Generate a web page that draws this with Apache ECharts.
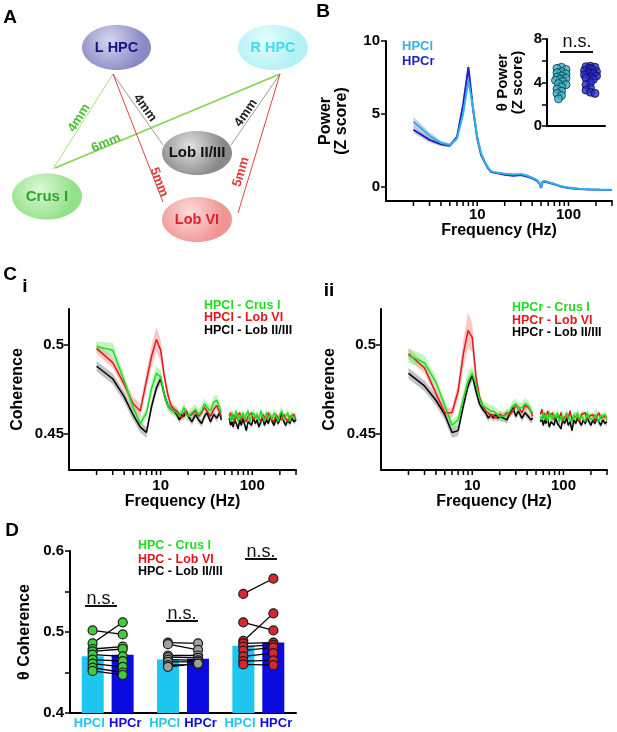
<!DOCTYPE html>
<html>
<head>
<meta charset="utf-8">
<script src="https://cdn.jsdelivr.net/npm/echarts@6/dist/echarts.min.js"></script>
<style>
  html, body { margin: 0; padding: 0; background: #fff; }
  #main { width: 617px; height: 732px; }
</style>
</head>
<body>
<div id="main"></div>
<script>
const FONT = '"Liberation Sans", Arial, sans-serif';

// ---------- B: hippocampal power spectra (Z score) ----------
const powerFreq = [2,3,4,5,6,7,8,9,10,11,12,13,14,15,17,20,25,30,35,40,45,48,50,52,55,60,70,80,100,130,170,220,300];
const powerHPCl = [4.45,3.5,3.0,2.85,3.3,5.0,7.3,5.4,3.4,2.3,1.75,1.35,1.08,1.0,0.95,0.88,0.82,0.85,0.75,0.6,0.45,0.25,-0.05,0.35,0.38,0.3,0.18,0.05,-0.08,-0.15,-0.2,-0.22,-0.23];
const powerHPCr = [3.9,3.2,2.9,2.8,3.4,5.6,8.2,5.3,3.3,2.2,1.7,1.3,1.03,0.96,0.9,0.8,0.74,0.78,0.68,0.56,0.4,0.22,-0.1,0.3,0.34,0.27,0.15,0.02,-0.1,-0.17,-0.21,-0.23,-0.24];
const powerSemHPCl = [0.35,0.25,0.15,0.12,0.15,0.3,0.35,0.3,0.2,0.1,0.08,0.06,0.05,0.05,0.05,0.05,0.05,0.05,0.05,0.05,0.05,0.05,0.08,0.05,0.05,0.04,0.03,0.03,0.03,0.02,0.02,0.02,0.02];
const powerSemHPCr = [0.25,0.2,0.12,0.1,0.12,0.25,0.3,0.25,0.15,0.08,0.06,0.05,0.05,0.05,0.05,0.05,0.05,0.05,0.05,0.05,0.05,0.05,0.08,0.05,0.05,0.04,0.03,0.03,0.03,0.02,0.02,0.02,0.02];

// inset: theta power per animal
const thetaPowerHPCl = [5.4,5.3,5.2,5.0,4.9,4.8,4.6,4.5,4.4,4.3,4.2,4.1,3.9,3.8,3.6,3.4,3.2,3.0,2.8,2.5];
const thetaPowerHPCr = [5.5,5.45,5.4,5.3,5.2,5.1,5.0,4.9,4.8,4.7,4.6,4.5,4.4,4.3,4.0,3.8,3.5,3.3,3.1,3.0];

// ---------- C: coherence spectra ----------
// 2-46 Hz, then 56-300 Hz (line noise notch removed around 50 Hz)
const cohFreq = [2,3,4,5,6,7,8,9,10,11,12,13,14,15,16,17,18,19,20,22,24,26,28,30,32,35,38,41,44,46,
  56,58,60,62,64,67,70,73,76,79,82,86,90,94,98,103,108,113,118,124,130,136,143,150,157,165,173,182,191,200,210,221,232,244,257,270,285,300];
const notchHz = 50;

// i: HPCl
const cohLCrus = [.499,.497,.480,.465,.456,.462,.476,.484,.482,.472,.466,.464,.463,.462,.460,.462,.465,.461,.460,.462,.464,.461,.463,.467,.465,.463,.468,.469,.465,.462,
  .461,.457,.462,.458,.460,.463,.457,.461,.459,.462,.458,.461,.463,.457,.460,.462,.459,.461,.458,.463,.460,.457,.462,.459,.461,.458,.462,.460,.457,.461,.463,.458,.460,.462,.457,.461,.459,.460];
const cohLLob6 = [.498,.490,.478,.467,.463,.480,.494,.503,.497,.482,.472,.466,.464,.463,.461,.459,.462,.463,.460,.461,.463,.460,.462,.465,.463,.460,.464,.466,.462,.460,
  .460,.462,.458,.461,.457,.460,.459,.462,.458,.460,.461,.457,.460,.459,.462,.458,.460,.461,.459,.457,.461,.460,.458,.462,.459,.460,.457,.461,.459,.460,.458,.461,.459,.457,.460,.459,.461,.458];
const cohLLob23 = [.488,.481,.471,.461,.454,.451,.466,.476,.481,.472,.466,.464,.463,.461,.458,.461,.460,.463,.460,.457,.461,.458,.456,.460,.462,.457,.461,.459,.462,.458,
  .459,.455,.457,.454,.458,.456,.453,.458,.455,.459,.456,.452,.457,.458,.455,.459,.456,.458,.454,.457,.459,.455,.458,.456,.460,.457,.455,.459,.456,.458,.462,.457,.455,.458,.456,.459,.457,.458];
// ii: HPCr
const cohRCrus = [.494,.490,.479,.466,.455,.458,.470,.480,.484,.478,.470,.466,.465,.464,.463,.463,.462,.461,.460,.460,.461,.463,.466,.467,.464,.465,.467,.466,.463,.462,
  .460,.458,.462,.459,.461,.457,.462,.460,.458,.461,.459,.462,.457,.460,.461,.458,.462,.459,.460,.457,.461,.459,.462,.458,.460,.461,.457,.462,.459,.460,.458,.461,.462,.457,.460,.459,.461,.458];
const cohRLob6 = [.495,.487,.473,.462,.462,.474,.495,.508,.504,.482,.471,.466,.463,.462,.460,.461,.459,.460,.461,.460,.462,.461,.463,.466,.465,.462,.466,.465,.463,.460,
  .461,.464,.459,.462,.458,.463,.460,.459,.462,.458,.460,.461,.459,.462,.457,.460,.461,.459,.463,.458,.460,.461,.459,.457,.461,.460,.462,.458,.460,.459,.461,.457,.460,.462,.459,.458,.460,.459];
const cohRLob23 = [.484,.477,.469,.461,.451,.452,.466,.477,.483,.474,.467,.464,.462,.459,.461,.459,.461,.459,.460,.459,.458,.462,.465,.460,.463,.459,.462,.460,.458,.459,
  .457,.459,.455,.458,.456,.459,.454,.457,.458,.455,.459,.456,.457,.453,.458,.456,.459,.455,.457,.452,.458,.456,.459,.457,.455,.458,.456,.459,.457,.455,.458,.456,.459,.457,.455,.458,.456,.457];

// SEM for 2-46 Hz; one value for the 56-300 Hz stretch
const semLCrus = [.003,.004,.003,.003,.003,.003,.004,.004,.004,.003,.003,.003,.003,.003,.003,.003,.003,.003,.003,.003,.003,.003,.003,.003,.003,.003,.003,.003,.003,.003];
const semLLob6 = [.003,.003,.003,.004,.004,.005,.006,.007,.006,.004,.003,.002,.002,.002,.002,.002,.002,.002,.002,.002,.002,.002,.002,.002,.002,.002,.002,.002,.002,.002];
const semLLob23 = [.003,.003,.003,.003,.003,.003,.003,.003,.003,.003,.002,.002,.002,.002,.002,.002,.002,.002,.002,.002,.002,.002,.002,.002,.002,.002,.002,.002,.002,.002];
const semRCrus = [.004,.004,.003,.003,.003,.003,.004,.005,.004,.003,.003,.003,.003,.003,.003,.003,.003,.003,.003,.003,.003,.003,.003,.003,.003,.003,.003,.003,.003,.003];
const semRLob6 = [.003,.003,.003,.003,.003,.005,.008,.010,.008,.005,.003,.002,.002,.002,.002,.002,.002,.002,.002,.002,.002,.002,.002,.002,.002,.002,.002,.002,.002,.002];
const semRLob23 = [.003,.003,.003,.003,.003,.003,.003,.003,.003,.003,.002,.002,.002,.002,.002,.002,.002,.002,.002,.002,.002,.002,.002,.002,.002,.002,.002,.002,.002,.002];
const semHighCrus = .0025, semHighLob6 = .0015, semHighLob23 = .0015;

// ---------- D: theta coherence per animal (HPCl, HPCr pairs) ----------
const groups = ['Crus I', 'Lob II/III', 'Lob VI'];
const barHPCl = [.470, .466, .483];
const barHPCr = [.472, .467, .487];
const dCrusHPCl = [.502,.486,.479,.476,.472,.466,.461,.456,.452];
const dCrusHPCr = [.497,.512,.482,.479,.470,.464,.457,.450,.447];
const dLob23HPCl = [.487,.485,.471,.469,.466,.463,.459,.457];
const dLob23HPCr = [.486,.478,.471,.468,.465,.463,.460,.461];
const dLob6HPCl = [.547,.512,.489,.486,.482,.477,.470,.464,.460];
const dLob6HPCr = [.566,.502,.523,.487,.484,.481,.474,.465,.459];

const logTicks = [2,3,4,5,6,7,8,9,10,20,30,40,50,60,70,80,90,100,200,300];

// ---------- helpers ----------
function merge(a, b) {
  const out = Object.assign({}, a);
  for (const k in b) {
    if (b[k] && typeof b[k] === 'object' && !Array.isArray(b[k]) && a[k] && typeof a[k] === 'object') out[k] = merge(a[k], b[k]);
    else out[k] = b[k];
  }
  return out;
}
function axis(extra) {
  return merge({
    nameLocation: 'middle',
    nameTextStyle: { color: '#000', fontFamily: FONT, fontWeight: 'bold', fontSize: 16 },
    axisLine: { show: true, onZero: false, lineStyle: { color: '#000', width: 2 } },
    axisTick: { show: true, length: 5, lineStyle: { color: '#000', width: 1.5 } },
    axisLabel: { color: '#000', fontFamily: FONT, fontWeight: 'bold', fontSize: 15 },
    splitLine: { show: false }
  }, extra);
}
function withGap(xs, ys) {
  const out = [];
  xs.forEach((x, i) => {
    if (i > 0 && xs[i - 1] < notchHz && x > notchHz) out.push([notchHz, '-']);
    out.push([x, ys[i]]);
  });
  return out;
}
function semFull(low, high) {
  return cohFreq.map((f, i) => (i < low.length ? low[i] : high));
}
// mean +/- sem band, drawn as one polygon per continuous stretch
function band(xi, yi, xs, mean, sem, color) {
  const pts = xs.map((x, i) => [x, mean[i] - sem[i], mean[i] + sem[i]]);
  return {
    type: 'custom', xAxisIndex: xi, yAxisIndex: yi, silent: true, z: 1,
    data: pts, encode: { x: 0, y: [1, 2] },
    renderItem: (params, api) => {
      if (params.dataIndex !== 0) return null;
      const segs = [];
      let cur = [];
      pts.forEach((p, i) => {
        if (i > 0 && pts[i - 1][0] < notchHz && p[0] > notchHz) { segs.push(cur); cur = []; }
        cur.push(p);
      });
      segs.push(cur);
      return {
        type: 'group',
        children: segs.map(s => ({
          type: 'polygon',
          shape: { points: s.map(p => api.coord([p[0], p[2]])).concat(s.slice().reverse().map(p => api.coord([p[0], p[1]]))) },
          style: { fill: color }
        }))
      };
    }
  };
}
function meanLine(xi, yi, xs, ys, color, width) {
  return { type: 'line', xAxisIndex: xi, yAxisIndex: yi, data: withGap(xs, ys), symbol: 'none', silent: true,
    lineStyle: { color: color, width: width || 1.5 }, z: 3 };
}
// log-axis tick marks at 2..9, 20..90, ...
function logTickMarks(xi, yi, ymin) {
  return {
    type: 'custom', xAxisIndex: xi, yAxisIndex: yi, silent: true, z: 6, clip: false,
    data: logTicks.map(f => [f, ymin]),
    renderItem: (params, api) => {
      const p = api.coord([api.value(0), api.value(1)]);
      return { type: 'line', shape: { x1: p[0], y1: p[1], x2: p[0], y2: p[1] + 5 }, style: { stroke: '#000', lineWidth: 1.5 } };
    }
  };
}
// beeswarm: small horizontal pixel offsets, dots may overlap a little
function swarm(vals, thr, pxPerUnit) {
  const placed = [];
  const cands = [0, -1.5, 1.5, -3, 3, -4.5, 4.5, -6, 6];
  return vals.map(v => {
    const y = v * pxPerUnit;
    let best = 0, bestD = -1;
    for (const x of cands) {
      const d = placed.reduce((m, p) => Math.min(m, Math.hypot(p[0] - x, p[1] - y)), 1e9);
      if (d >= thr) { best = x; bestD = d; break; }
      if (d > bestD) { bestD = d; best = x; }
    }
    placed.push([best, y]);
    return best;
  });
}
function pairs(g, l, r) {
  const out = [];
  l.forEach((v, i) => { out.push([g + 0.3, v], [g + 0.7, r[i]], ['-', '-']); });
  return out;
}

// ---------- colors ----------
const cGreen = '#1fdc1f', cRed = '#e3181d', cBlack = '#000';
const bGreen = 'rgba(110,235,110,0.45)', bRed = 'rgba(245,130,130,0.45)', bBlack = 'rgba(120,120,120,0.45)';
const cHPCl = '#31b2e6', cHPCr = '#1f1fc4';

const chart = echarts.init(document.getElementById('main'), null, { renderer: 'canvas' });

const insetPx = 87 / 8;
const offL = swarm(thetaPowerHPCl, 3.8, insetPx);
const offR = swarm(thetaPowerHPCr, 3.8, insetPx);

const series = [];
// B bands + lines
series.push(band(0, 0, powerFreq, powerHPCr, powerSemHPCr, 'rgba(150,150,185,0.45)'));
series.push(band(0, 0, powerFreq, powerHPCl, powerSemHPCl, 'rgba(150,150,185,0.45)'));
series.push(meanLine(0, 0, powerFreq, powerHPCr, cHPCr, 2));
series.push(meanLine(0, 0, powerFreq, powerHPCl, cHPCl, 2));
series.push(logTickMarks(0, 0, -1));
// inset
series.push({ type: 'scatter', xAxisIndex: 1, yAxisIndex: 1, symbolSize: 8, z: 4,
  data: thetaPowerHPCl.map((v, i) => ({ value: [0, v], symbolOffset: [offL[i], 0] })),
  itemStyle: { color: '#3cb4c8', borderColor: '#10303c', borderWidth: 1 } });
series.push({ type: 'scatter', xAxisIndex: 1, yAxisIndex: 1, symbolSize: 8, z: 4,
  data: thetaPowerHPCr.map((v, i) => ({ value: [1, v], symbolOffset: [offR[i], 0] })),
  itemStyle: { color: '#2a2ad0', borderColor: '#0c0c40', borderWidth: 1 } });
// C i and C ii
[[2, cohLCrus, cohLLob6, cohLLob23, semLCrus, semLLob6, semLLob23],
 [3, cohRCrus, cohRLob6, cohRLob23, semRCrus, semRLob6, semRLob23]].forEach(([ax, crus, lob6, lob23, sC, s6, s23]) => {
  series.push(band(ax, ax, cohFreq, lob23, semFull(s23, semHighLob23), bBlack));
  series.push(band(ax, ax, cohFreq, lob6, semFull(s6, semHighLob6), bRed));
  series.push(band(ax, ax, cohFreq, crus, semFull(sC, semHighCrus), bGreen));
  series.push(meanLine(ax, ax, cohFreq, lob23, cBlack));
  series.push(meanLine(ax, ax, cohFreq, lob6, cRed));
  series.push(meanLine(ax, ax, cohFreq, crus, cGreen));
  series.push(logTickMarks(ax, ax, 0.43));
});
// D bars
series.push({ type: 'bar', xAxisIndex: 4, yAxisIndex: 4, data: barHPCl, barWidth: 22, barGap: '36%', itemStyle: { color: '#1ec6f0' }, z: 1 });
series.push({ type: 'bar', xAxisIndex: 4, yAxisIndex: 4, data: barHPCr, barWidth: 22, itemStyle: { color: '#0b0be0' }, z: 1 });
// D paired dots
[[0, dCrusHPCl, dCrusHPCr, '#3ccf3c'], [1, dLob23HPCl, dLob23HPCr, '#a0a0a0'], [2, dLob6HPCl, dLob6HPCr, '#d8282e']].forEach(([g, l, r, col]) => {
  series.push({ type: 'line', xAxisIndex: 5, yAxisIndex: 4, data: pairs(g, l, r), connectNulls: false, z: 5,
    symbol: 'circle', symbolSize: 9, showSymbol: true, showAllSymbol: true,
    lineStyle: { color: '#000', width: 1.3 }, itemStyle: { color: col, borderColor: '#1a1a1a', borderWidth: 1.2 } });
});

// ---------- panel A schematic + annotations ----------
function txt(x, y, s, fill, size, extra) {
  return merge({ type: 'text', x: x, y: y, z: 100,
    style: { text: s, fill: fill, font: 'bold ' + size + 'px ' + FONT, textAlign: 'center', textVerticalAlign: 'middle' } }, extra || {});
}
function seg(x1, y1, x2, y2, color, w) {
  return { type: 'line', z: 50, shape: { x1, y1, x2, y2 }, style: { stroke: color, lineWidth: w } };
}
function node(cx, cy, rx, ry, c0, c1, label, tc, size) {
  return [
    { type: 'ellipse', z: 60, shape: { cx, cy, rx, ry },
      style: { fill: { type: 'radial', x: 0.4, y: 0.35, r: 0.75, colorStops: [{ offset: 0, color: c0 }, { offset: 1, color: c1 }] } } },
    txt(cx, cy, label, tc, size)
  ];
}
const deg = Math.PI / 180;
const left = { style: { textAlign: 'left' } };
const graphic = [
  txt(10, 18, 'A', '#000', 19), txt(323, 12, 'B', '#000', 19), txt(10, 275, 'C', '#000', 19),
  txt(25, 287, 'i', '#000', 19), txt(329, 291, 'ii', '#000', 19), txt(12, 531, 'D', '#000', 19),
  seg(113, 74, 53, 169, '#a8e283', 1),
  seg(280, 74, 55, 168, '#86d54c', 1.8),
  seg(113, 74, 163, 145, '#9a9a9a', 1),
  seg(113, 74, 163, 202, '#d84545', 1),
  seg(280, 74, 231, 145, '#9a9a9a', 1),
  seg(280, 74, 238, 213, '#d84545', 1),
  ...node(116.5, 47.5, 34.5, 22.5, '#d6d6f0', '#8a8ac6', 'L HPC', '#15157e', 14.5),
  ...node(273, 47.5, 35, 22.5, '#e4fdfd', '#b2f1f4', 'R HPC', '#3fdcec', 14.5),
  ...node(197, 153, 35, 22, '#e2e2e2', '#8a8a8a', 'Lob II/III', '#111', 15),
  ...node(47, 196.5, 35, 23, '#dcf8d6', '#92e088', 'Crus I', '#2aa52a', 15),
  ...node(197, 219.5, 35, 22.5, '#ffdcdc', '#f09494', 'Lob VI', '#e0202a', 14.5),
  txt(79, 118, '4mm', '#4cc134', 13, { rotation: 57.7 * deg }),
  txt(106, 143, '6mm', '#4cc134', 13, { rotation: 22.7 * deg }),
  txt(145, 108, '4mm', '#222', 13, { rotation: -54.8 * deg }),
  txt(159, 182, '5mm', '#e03a3a', 13, { rotation: -68.7 * deg }),
  txt(246, 113, '4mm', '#222', 13, { rotation: 55.4 * deg }),
  txt(241, 172, '5mm', '#e03a3a', 13, { rotation: 73.2 * deg }),
  // B legend
  txt(402, 46, 'HPCl', cHPCl, 13, left),
  txt(402, 61, 'HPCr', cHPCr, 13, left),
  // C legends
  txt(204, 306, 'HPCl - Crus I', cGreen, 12.5, left),
  txt(204, 318, 'HPCl - Lob VI', cRed, 12.5, left),
  txt(204, 331, 'HPCl - Lob II/III', '#000', 12.5, left),
  txt(512, 308, 'HPCr - Crus I', cGreen, 12.5, left),
  txt(512, 321, 'HPCr - Lob VI', cRed, 12.5, left),
  txt(512, 333, 'HPCr - Lob II/III', '#000', 12.5, left),
  // D legend
  txt(138, 546, 'HPC - Crus I', cGreen, 12.5, left),
  txt(138, 560, 'HPC - Lob VI', cRed, 12.5, left),
  txt(138, 572, 'HPC - Lob II/III', '#000', 12.5, left)
];
// n.s. marks
[[577, 42, 52, 560, 593], [101, 599, 606, 85, 117], [182, 614, 621, 166, 198], [261, 552, 559, 245, 277]].forEach(([cx, ty, ly, x1, x2]) => {
  graphic.push(txt(cx, ty, 'n.s.', '#111', 18, { style: { font: '18px ' + FONT } }));
  graphic.push(seg(x1, ly, x2, ly, '#111', 2));
});

const option = {
  animation: false,
  backgroundColor: '#fff',
  textStyle: { fontFamily: FONT },
  grid: [
    { left: 386, top: 41, width: 226, height: 160, outerBoundsMode: 'none' },
    { left: 547, top: 39, width: 58, height: 87, outerBoundsMode: 'none' },
    { left: 69, top: 309, width: 227, height: 161, outerBoundsMode: 'none' },
    { left: 381, top: 309, width: 226, height: 161, outerBoundsMode: 'none' },
    { left: 70, top: 551, width: 226, height: 162, outerBoundsMode: 'none' }
  ],
  xAxis: [
    axis({ gridIndex: 0, type: 'log', min: 1, max: 300, name: 'Frequency (Hz)', nameGap: 20,
      axisLabel: { customValues: [10, 100], margin: 6 }, axisTick: { show: false } }),
    axis({ gridIndex: 1, type: 'category', data: ['HPCl', 'HPCr'], axisLabel: { show: false }, axisTick: { show: false } }),
    axis({ gridIndex: 2, type: 'log', min: 1, max: 300, name: 'Frequency (Hz)', nameGap: 19,
      axisLabel: { customValues: [10, 100], margin: 8 }, axisTick: { show: false } }),
    axis({ gridIndex: 3, type: 'log', min: 1, max: 300, name: 'Frequency (Hz)', nameGap: 19,
      axisLabel: { customValues: [10, 100], margin: 8 }, axisTick: { show: false } }),
    axis({ gridIndex: 4, type: 'category', data: groups, axisTick: { show: false },
      axisLabel: { interval: 0, margin: 3, formatter: () => '{l|HPCl} {r|HPCr}',
        rich: { l: { color: '#1ec6f0', fontWeight: 'bold', fontSize: 13, fontFamily: FONT },
                r: { color: '#0b0be0', fontWeight: 'bold', fontSize: 13, fontFamily: FONT } } } }),
    { gridIndex: 4, type: 'value', min: 0, max: 3, show: false }
  ],
  yAxis: [
    axis({ gridIndex: 0, type: 'value', min: -1, max: 10, name: 'Power\n(Z score)', nameGap: 36,
      axisLabel: { customValues: [0, 5, 10], margin: 6 }, axisTick: { customValues: [0, 5, 10] } }),
    axis({ gridIndex: 1, type: 'value', min: 0, max: 8, interval: 2, name: '\u03b8 Power\n(Z score)', nameGap: 22,
      nameTextStyle: { fontSize: 15 }, axisLabel: { customValues: [0, 4, 8], margin: 5 } }),
    axis({ gridIndex: 2, type: 'value', min: 0.43, max: 0.52, name: 'Coherence', nameGap: 43,
      axisLabel: { customValues: [0.45, 0.5], margin: 5 }, axisTick: { customValues: [0.45, 0.5] } }),
    axis({ gridIndex: 3, type: 'value', min: 0.43, max: 0.52, name: 'Coherence', nameGap: 43,
      axisLabel: { customValues: [0.45, 0.5], margin: 5 }, axisTick: { customValues: [0.45, 0.5] } }),
    axis({ gridIndex: 4, type: 'value', min: 0.4, max: 0.6, interval: 0.05, name: '\u03b8 Coherence', nameGap: 37,
      axisLabel: { margin: 6, formatter: v => (Math.round(v * 100) % 10 === 0 ? v.toFixed(1) : '') } })
  ],
  series: series,
  graphic: graphic
};
chart.setOption(option);
</script>
</body>
</html>
